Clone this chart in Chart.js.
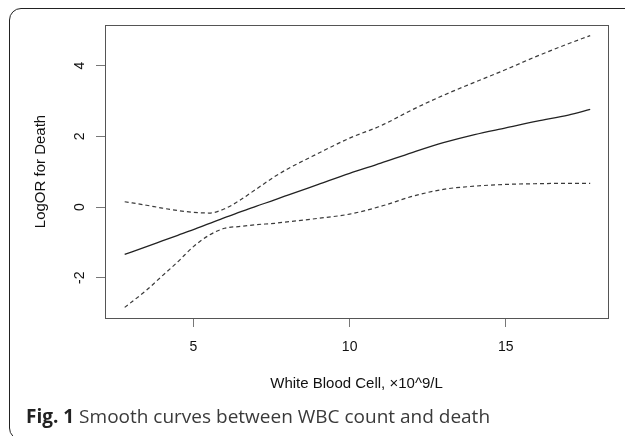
<!DOCTYPE html>
<html lang="en">
  <head>
    <meta charset="UTF-8" />
    <title>Smooth curves between WBC count and death</title>
    <style>
      html, body {
        margin: 0;
        padding: 0;
        background: #fff;
      }
      #wrap {
        position: relative;
        width: 625px;
        height: 436px;
        overflow: hidden;
      }
      #frame {
        position: absolute;
        left: 9px;
        top: 8px;
        width: 700px;
        height: 430px;
        border: 1.5px solid #222;
        border-radius: 12px 0 0 12px;
      }
      canvas {
        position: absolute;
        left: 0;
        top: 0;
      }
      #caption {
        position: absolute;
        left: 26px;
        top: 406px;
        font-family: "Open Sans", sans-serif;
        font-size: 19px;
        line-height: 20px;
        color: #3a3a3a;
        white-space: nowrap;
      }
      #caption b {
        color: #222;
      }
    </style>
  </head>
  <body>
    <div id="wrap">
      <div id="frame"></div>
      <canvas id="chart" width="625" height="436"></canvas>
      <div id="caption"><b>Fig. 1</b> Smooth curves between WBC count and death</div>
    </div>

    <script src="https://cdn.jsdelivr.net/npm/chart.js"></script>
    <script>
      // WBC (x10^9/L) and logOR
      const wbc = [2.8, 3.5, 4, 4.5, 5, 5.5, 6, 6.5, 7, 7.6, 8, 9, 10, 11, 12, 13, 14, 15, 16, 17, 17.7];
      const fit = [-1.34, -1.12, -0.96, -0.8, -0.64, -0.47, -0.3, -0.14, 0.02, 0.2, 0.33, 0.64, 0.95, 1.24, 1.54, 1.82, 2.05, 2.24, 2.43, 2.6, 2.76];
      const upper = [0.15, 0.05, -0.03, -0.1, -0.15, -0.17, -0.05, 0.2, 0.5, 0.86, 1.07, 1.52, 1.95, 2.3, 2.75, 3.16, 3.53, 3.89, 4.27, 4.62, 4.85];
      const lower = [-2.84, -2.35, -1.95, -1.55, -1.12, -0.8, -0.6, -0.55, -0.5, -0.46, -0.42, -0.32, -0.2, 0.02, 0.3, 0.5, 0.59, 0.64, 0.66, 0.67, 0.67];

      const xTicks = [5, 10, 15];
      const yTicks = [-2, 0, 2, 4];

      const toPoints = (ys) => wbc.map((x, i) => ({ x: x, y: ys[i] }));

      // box around the plot region, like R's box()
      const plotBox = {
        id: "plotBox",
        afterDraw(chart) {
          const { ctx, chartArea: a } = chart;
          ctx.save();
          ctx.strokeStyle = "#555";
          ctx.lineWidth = 1;
          ctx.strokeRect(Math.round(a.left) + 0.5, Math.round(a.top) + 0.5,
            Math.round(a.right - a.left), Math.round(a.bottom - a.top));
          ctx.restore();
        },
      };

      const lineStyle = {
        showLine: true,
        pointRadius: 0,
        fill: false,
        cubicInterpolationMode: "monotone",
      };

      new Chart(document.getElementById("chart"), {
        type: "scatter",
        data: {
          datasets: [
            { ...lineStyle, label: "fit", data: toPoints(fit), borderColor: "#222", borderWidth: 1.3 },
            { ...lineStyle, label: "upper", data: toPoints(upper), borderColor: "#3a3a3a", borderWidth: 1.2, borderDash: [4, 3] },
            { ...lineStyle, label: "lower", data: toPoints(lower), borderColor: "#3a3a3a", borderWidth: 1.2, borderDash: [4, 3] },
          ],
        },
        options: {
          responsive: false,
          animation: false,
          layout: { padding: { left: 0, top: 25, right: 17, bottom: 0 } },
          plugins: {
            legend: { display: false },
            tooltip: { enabled: false },
          },
          scales: {
            x: {
              type: "linear",
              min: 2.17,
              max: 18.27,
              afterBuildTicks: (s) => { s.ticks = xTicks.map((v) => ({ value: v })); },
              afterFit: (s) => { s.height = 118; },
              grid: { drawOnChartArea: false, drawTicks: true, tickLength: 9, color: "#777" },
              border: { display: false },
              ticks: {
                padding: 12,
                color: "#111",
                font: { family: "Liberation Sans", size: 14 },
              },
              title: {
                display: true,
                text: "White Blood Cell, ×10^9/L",
                color: "#111",
                font: { family: "Liberation Sans", size: 15 },
                padding: { top: 0, bottom: 43 },
              },
            },
            y: {
              min: -3.14,
              max: 5.15,
              afterBuildTicks: (s) => { s.ticks = yTicks.map((v) => ({ value: v })); },
              afterFit: (s) => { s.width = 105; },
              grid: { drawOnChartArea: false, drawTicks: true, tickLength: 9, color: "#777" },
              border: { display: false },
              ticks: {
                minRotation: 90,
                maxRotation: 90,
                crossAlign: "center",
                padding: 10,
                color: "#111",
                font: { family: "Liberation Sans", size: 14 },
              },
              title: {
                display: true,
                text: "LogOR for Death",
                color: "#111",
                font: { family: "Liberation Sans", size: 15 },
                padding: { top: 32, bottom: 0 },
              },
            },
          },
        },
        plugins: [plotBox],
      });
    </script>
  </body>
</html>
